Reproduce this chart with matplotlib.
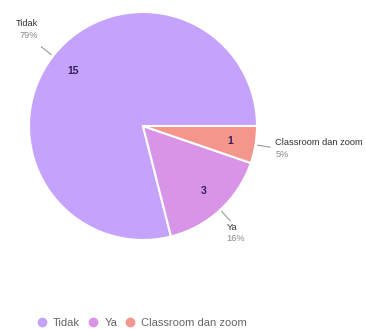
import numpy as np
import matplotlib
matplotlib.use("Agg")
import matplotlib.pyplot as plt
from matplotlib.lines import Line2D

plt.rcParams["font.family"] = ["Liberation Sans", "DejaVu Sans"]

labels = ["Tidak", "Ya", "Classroom dan zoom"]
counts = [15, 3, 1]
colors = ["#c5a3fd", "#d894e6", "#f4968b"]

total = sum(counts)
pcts = [round(100 * c / total) for c in counts]

fig = plt.figure(figsize=(3.66, 3.29), dpi=100)
W, H = 366, 329
# pie box: centre (143, 126) px, radius 114 px
cx, cy, r = 143, 126, 114
ax = fig.add_axes([(cx - r) / W, (H - cy - r) / H, 2 * r / W, 2 * r / H])

wedges, _, autotexts = ax.pie(
    counts, colors=colors, startangle=0, counterclock=True, radius=1,
    autopct=lambda p: "%d" % round(p * total / 100), pctdistance=0.78,
    wedgeprops=dict(edgecolor="white", linewidth=1.5),
    textprops=dict(fontsize=7.5, color="#33205c", fontweight="bold"))
ax.set_xlim(-1, 1)
ax.set_ylim(-1, 1)
ax.set_aspect("auto")
ax.axis("off")

# outside labels with leader lines: name on top, percentage below
label_nudge = [(2, 9), (-6.5, -4.5), (-2, 0)]  # points
for w, lab, p, (nx, ny) in zip(wedges, labels, pcts, label_nudge):
    ang = np.deg2rad((w.theta1 + w.theta2) / 2)
    c, s = np.cos(ang), np.sin(ang)
    ax.plot([1.02 * c, 1.13 * c], [1.02 * s, 1.13 * s], color="#9a9a9a",
            lw=0.8, clip_on=False)
    ha = "left" if c > 0 else "right"
    tx, ty = 1.2 * c, 1.2 * s
    ax.annotate(lab, (tx, ty), xytext=(nx, ny + 4), textcoords="offset points",
                ha=ha, va="center", fontsize=6.7, color="#333333",
                annotation_clip=False)
    ax.annotate("%d%%" % p, (tx, ty), xytext=(nx, ny - 4), textcoords="offset points",
                ha=ha, va="center", fontsize=6.7, color="#8a8a8a",
                annotation_clip=False)

handles = [Line2D([], [], marker="o", ls="", markersize=6,
                  markerfacecolor=col, markeredgecolor=col) for col in colors]
fig.legend(handles, labels, loc="center left", bbox_to_anchor=(37.6 / W, 1 - 323 / H),
           ncol=3, frameon=False, fontsize=8, labelcolor="#666666",
           borderpad=0, borderaxespad=0,
           handletextpad=0.6, columnspacing=0.77, handlelength=0.8)

fig.savefig("out.png", dpi=100)
